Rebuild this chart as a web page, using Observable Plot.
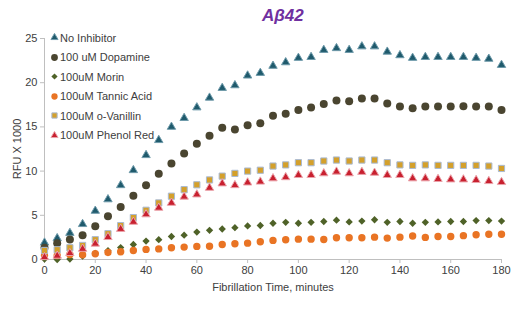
<!DOCTYPE html>
<html>
<head>
<meta charset="utf-8">
<script src="https://cdn.jsdelivr.net/npm/d3@7"></script>
<script src="https://cdn.jsdelivr.net/npm/@observablehq/plot@0.6"></script>
<style>
  html, body { margin: 0; padding: 0; background: #fff; }
  #wrap { position: relative; width: 530px; height: 321px; font-family: "Liberation Sans", Arial, sans-serif; }
  #title { position: absolute; left: 262px; top: 6px; font-size: 17px; font-weight: bold; font-style: italic; color: #7030A0; }
  #legend { position: absolute; left: 49px; top: 28px; font-size: 11px; color: #404040; }
  .row { height: 19.5px; display: flex; align-items: center; white-space: nowrap; }
  .row svg { margin-right: 0px; }
</style>
</head>
<body>
<div id="wrap">
  <div id="chart"></div>
  <div id="title">Aβ42</div>
  <div id="legend"></div>
</div>
<script>
const time = [0,5,10,15,20,25,30,35,40,45,50,55,60,65,70,75,80,85,90,95,100,105,110,115,120,125,130,135,140,145,150,155,160,165,170,175,180];
const seriesNames = ["No Inhibitor","100 uM Dopamine","100uM Morin","100uM Tannic Acid","100uM o-Vanillin","100uM Phenol Red"];
const noInhibitor = [1.9,2.4,3.0,4.0,5.5,6.8,8.4,10.1,11.8,13.5,15.0,16.0,17.2,18.3,19.4,19.7,20.8,21.1,21.9,22.3,22.8,22.9,23.7,23.9,23.7,24.1,24.1,23.5,23.1,22.8,22.9,22.9,22.9,22.9,22.8,22.7,22.0];
const dopamine = [1.33,1.85,2.27,2.73,3.75,4.9,5.95,7.2,8.4,9.7,10.85,12.0,13.1,14.0,14.9,14.7,15.2,15.4,16.25,16.5,16.9,17.2,17.6,18.0,17.9,18.2,18.2,17.65,17.3,17.1,17.3,17.3,17.3,17.35,17.3,17.3,16.9];
const morin = [0.05,0.0,0.05,0.4,0.7,1.0,1.35,1.7,2.08,2.24,2.6,2.75,3.1,3.3,3.45,3.6,3.8,3.85,4.1,4.2,4.1,4.2,4.3,4.45,4.25,4.35,4.5,4.2,4.3,4.1,4.2,4.25,4.3,4.3,4.4,4.4,4.35];
const tannicAcid = [0.45,0.45,0.57,0.53,0.65,0.8,0.87,1.02,1.14,1.2,1.33,1.4,1.48,1.5,1.7,1.78,1.85,2.0,2.16,2.24,2.3,2.3,2.27,2.46,2.46,2.46,2.53,2.42,2.53,2.65,2.5,2.6,2.6,2.7,2.8,2.85,2.85];
const oVanillin = [1.02,1.1,1.33,1.59,2.24,2.92,3.83,4.74,5.57,6.4,7.16,7.9,8.45,9.0,9.43,9.74,10.0,10.1,10.57,10.7,10.95,10.95,11.14,11.25,11.14,11.25,11.25,10.95,10.7,10.65,10.7,10.65,10.65,10.65,10.65,10.57,10.3];
const phenolRed = [0.26,0.42,0.72,1.2,1.78,2.53,3.45,4.25,5.1,5.85,6.4,7.1,7.35,8.1,8.6,8.4,8.7,8.8,9.17,9.3,9.55,9.55,9.74,9.93,9.74,9.9,9.8,9.55,9.55,9.17,9.17,9.1,9.05,9.05,8.98,8.86,8.75];
const xTicks = [0,20,40,60,80,100,120,140,160,180];
const yTicks = [0,5,10,15,20,25];

const seriesValues = [noInhibitor, dopamine, morin, tannicAcid, oVanillin, phenolRed];
const styles = [
  {symbol: "triangle", fill: "#1F5A6C", stroke: "#6E9AAA", r: 3.1},
  {symbol: "circle",   fill: "#4A4530", stroke: "none",    r: 4.0},
  {symbol: "diamond2", fill: "#4F6228", stroke: "none",    r: 3.3},
  {symbol: "circle",   fill: "#E97424", stroke: "none",    r: 3.7},
  {symbol: "square",   fill: "#D4A02B", stroke: "#A9BAD3", r: 3.5},
  {symbol: "triangle", fill: "#C8202F", stroke: "#EBA3AA", r: 3.1}
];

const data = seriesNames.map((name, i) => time.map((t, j) => ({series: name, time: t, value: seriesValues[i][j]})));

const dotMarks = data.map((rows, i) => Plot.dot(rows, {
  x: "time", y: "value",
  symbol: () => styles[i].symbol,
  fill: styles[i].fill, stroke: styles[i].stroke, strokeWidth: styles[i].stroke === "none" ? 0 : 1,
  r: styles[i].r
}));

const chart = Plot.plot({
  width: 530, height: 321,
  marginLeft: 44, marginRight: 29, marginTop: 38, marginBottom: 62,
  style: {fontFamily: "'Liberation Sans', Arial, sans-serif", fontSize: "10px", color: "#595959", background: "transparent"},
  symbol: {type: "identity"},
  x: {domain: [0, 180], ticks: xTicks, tickSize: 4, tickPadding: 3, label: "Fibrillation Time, minutes", labelAnchor: "center", labelOffset: 31, labelArrow: "none"},
  y: {domain: [0, 25], ticks: yTicks, tickSize: 4, tickPadding: 3, label: "RFU X 1000", labelAnchor: "center", labelOffset: 31, labelArrow: "none"},
  marks: [
    Plot.ruleX([0], {stroke: "#BFBFBF"}),
    Plot.ruleY([0], {stroke: "#BFBFBF"}),
    ...dotMarks
  ]
});
document.getElementById("chart").appendChild(chart);

d3.select(chart).selectAll('g[aria-label$="tick"]').attr("stroke", "#BFBFBF");
d3.select(chart).selectAll('g[aria-label$="label"]').attr("fill", "#404040").style("font-size", "11px");

// legend
const legend = d3.select("#legend");
seriesNames.forEach((name, i) => {
  const row = legend.append("div").attr("class", "row");
  const s = row.append("svg").attr("width", 11).attr("height", 11);
  const st = styles[i];
  const symType = {triangle: d3.symbolTriangle, circle: d3.symbolCircle, diamond2: d3.symbolDiamond2, square: d3.symbolSquare}[st.symbol];
  s.append("path")
    .attr("transform", "translate(5.5,5.5)")
    .attr("d", d3.symbol(symType, Math.PI * (st.r * 0.85) ** 2)())
    .attr("fill", st.fill)
    .attr("stroke", st.stroke)
    .attr("stroke-width", st.stroke === "none" ? 0 : 1);
  row.append("span").text(name);
});
</script>
</body>
</html>
